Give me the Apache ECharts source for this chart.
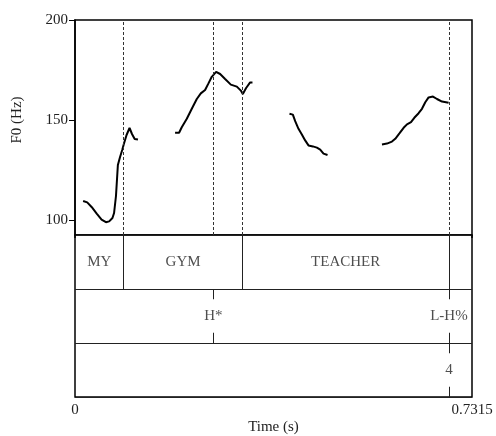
<!DOCTYPE html>
<html>
<head>
<meta charset="utf-8">
<script src="https://cdn.jsdelivr.net/npm/echarts@6/dist/echarts.min.js"></script>
<style>
  html, body { margin: 0; padding: 0; background: #fff; }
  #chart { width: 496px; height: 436px; }
</style>
</head>
<body>
<div id="chart"></div>
<script>
// F0 contour, one array per voiced stretch: [time (s), F0 (Hz)]
const pitchSeg1 = [[0.0150,109.5],[0.0225,108.8],[0.0310,106.4],[0.0400,103.2],[0.0490,100.2],[0.0570,98.9],[0.0630,99.3],[0.0690,101.0],[0.0720,103.5],[0.0755,112.0],[0.0790,127.5],[0.0830,131.5],[0.0870,135.0],[0.0900,138.0],[0.0950,142.5],[0.1005,146.0],[0.1050,143.0],[0.1100,140.5],[0.1160,140.2]];
const pitchSeg2 = [[0.1844,143.6],[0.1918,143.6],[0.1967,146.4],[0.2060,150.6],[0.2152,155.6],[0.2244,160.5],[0.2318,163.3],[0.2397,165.0],[0.2459,168.3],[0.2520,171.6],[0.2600,174.1],[0.2674,173.0],[0.2766,170.5],[0.2871,167.7],[0.2982,166.7],[0.3056,164.7],[0.3092,163.0],[0.3153,166.0],[0.3227,168.8],[0.3270,168.8]];
const pitchSeg3 = [[0.3952,153.1],[0.4014,152.7],[0.4057,149.4],[0.4118,145.6],[0.4180,142.8],[0.4241,139.8],[0.4302,137.3],[0.4383,136.8],[0.4457,136.2],[0.4518,135.2],[0.4579,133.2],[0.4653,132.5]];
const pitchSeg4 = [[0.5656,137.8],[0.5748,138.2],[0.5840,139.2],[0.5901,140.6],[0.5981,143.4],[0.6055,146.1],[0.6117,147.8],[0.6191,148.9],[0.6252,151.1],[0.6331,153.4],[0.6393,155.6],[0.6454,158.9],[0.6515,161.3],[0.6596,161.7],[0.6670,160.5],[0.6762,159.2],[0.6884,158.6]];

// Time range and F0 scale
const timeMin = 0;
const timeMax = 0.7315;
const f0Min = 92.5;
const f0Max = 200;
const f0Ticks = [100, 150, 200];
const timeTicks = [0, 0.7315];

// Word tier (interval tier): boundaries and labels
const wordBounds = [0, 0.0898, 0.3085, 0.689, 0.7315];
const wordLabels = ['MY', 'GYM', 'TEACHER', ''];
// Tone tier (point tier)
const toneTimes = [0.255, 0.689];
const toneLabels = ['H*', 'L-H%'];
// Break index tier (point tier)
const breakTimes = [0.689];
const breakLabels = ['4'];

const FONT = 'Liberation Serif';
const TICK_FRAC = 0.19; // length of point markers, as a fraction of tier height

// Join the voiced stretches with gaps
const pitchData = [];
[pitchSeg1, pitchSeg2, pitchSeg3, pitchSeg4].forEach((seg, i) => {
  if (i > 0) pitchData.push([null, null]);
  seg.forEach(p => pitchData.push(p));
});

// Dotted guide lines through the pitch panel: interval boundaries + points
const guideTimes = [];
wordBounds.slice(1, -1).forEach(t => guideTimes.push(t));
toneTimes.forEach(t => { if (guideTimes.indexOf(t) < 0) guideTimes.push(t); });
const guideLines = guideTimes.map(t => [{ coord: [t, f0Min] }, { coord: [t, f0Max] }]);

// Tier texts and marks (tier i spans y in [i, i+1], top to bottom)
const tierText = [];
const tierLines = [];
wordLabels.forEach((lab, i) => {
  if (lab) tierText.push({ value: [(wordBounds[i] + wordBounds[i + 1]) / 2, 0.5], name: lab });
});
wordBounds.slice(1, -1).forEach(t => tierLines.push([{ coord: [t, 0] }, { coord: [t, 1] }]));
function pointTier(times, labels, row) {
  times.forEach((t, i) => {
    tierText.push({ value: [t, row + 0.5], name: labels[i] });
    tierLines.push([{ coord: [t, row] }, { coord: [t, row + TICK_FRAC] }]);
    tierLines.push([{ coord: [t, row + 1 - TICK_FRAC] }, { coord: [t, row + 1] }]);
  });
}
pointTier(toneTimes, toneLabels, 1);
pointTier(breakTimes, breakLabels, 2);

const chart = echarts.init(document.getElementById('chart'), null, { renderer: 'canvas' });

chart.setOption({
  animation: false,
  backgroundColor: '#fff',
  grid: [
    { left: 75, top: 20, width: 397, height: 215, show: true, borderColor: '#000', borderWidth: 1.5, backgroundColor: 'transparent' },
    { left: 75, top: 235, width: 397, height: 162, show: true, borderColor: '#000', borderWidth: 1.5, backgroundColor: 'transparent' }
  ],
  xAxis: [
    {
      gridIndex: 0, type: 'value', min: timeMin, max: timeMax,
      axisLine: { show: false }, axisTick: { show: false }, axisLabel: { show: false }, splitLine: { show: false }
    },
    {
      gridIndex: 1, type: 'value', min: timeMin, max: timeMax, position: 'bottom',
      axisLine: { show: false },
      axisTick: { show: true, inside: false, length: 3, customValues: timeTicks, lineStyle: { color: '#000', width: 1.5 } },
      axisLabel: {
        show: true, customValues: timeTicks, margin: 6,
        formatter: v => (v === 0 ? '0' : '0.7315'),
        fontFamily: FONT, fontSize: 15, color: '#222'
      },
      splitLine: { show: false },
      name: 'Time (s)', nameLocation: 'middle', nameGap: 23,
      nameTextStyle: { fontFamily: FONT, fontSize: 15, color: '#222' }
    }
  ],
  yAxis: [
    {
      gridIndex: 0, type: 'value', min: f0Min, max: f0Max,
      axisLine: { show: true, lineStyle: { color: '#000', width: 1.5 } },
      axisTick: { show: true, inside: false, length: 6, customValues: f0Ticks, lineStyle: { color: '#000', width: 1 } },
      axisLabel: { show: true, customValues: f0Ticks, margin: 7, fontFamily: FONT, fontSize: 15, color: '#222' },
      splitLine: { show: false }
    },
    {
      gridIndex: 1, type: 'value', min: 0, max: 3, interval: 1, inverse: true,
      axisLine: { show: false }, axisTick: { show: false }, axisLabel: { show: false },
      splitLine: { show: true, lineStyle: { color: '#222', width: 1 } }
    }
  ],
  graphic: [
    {
      type: 'text', x: 17, y: 120, rotation: Math.PI / 2,
      style: { text: 'F0 (Hz)', align: 'center', verticalAlign: 'middle', font: '15px "Liberation Serif"', fill: '#222' }
    }
  ],
  series: [
    {
      name: 'F0', type: 'line', xAxisIndex: 0, yAxisIndex: 0,
      data: pitchData, connectNulls: false, showSymbol: false, symbol: 'none',
      lineStyle: { color: '#000', width: 2 },
      markLine: {
        silent: true, symbol: 'none', label: { show: false },
        lineStyle: { color: '#333', width: 1, type: [3, 2] },
        data: guideLines
      }
    },
    {
      name: 'tiers', type: 'scatter', xAxisIndex: 1, yAxisIndex: 1,
      data: tierText, symbolSize: 0,
      label: {
        show: true, position: 'inside', formatter: p => p.name,
        fontFamily: FONT, fontSize: 15, color: '#222'
      },
      markLine: {
        silent: true, symbol: 'none', label: { show: false },
        lineStyle: { color: '#222', width: 1, type: 'solid' },
        data: tierLines
      }
    }
  ]
});
</script>
</body>
</html>
